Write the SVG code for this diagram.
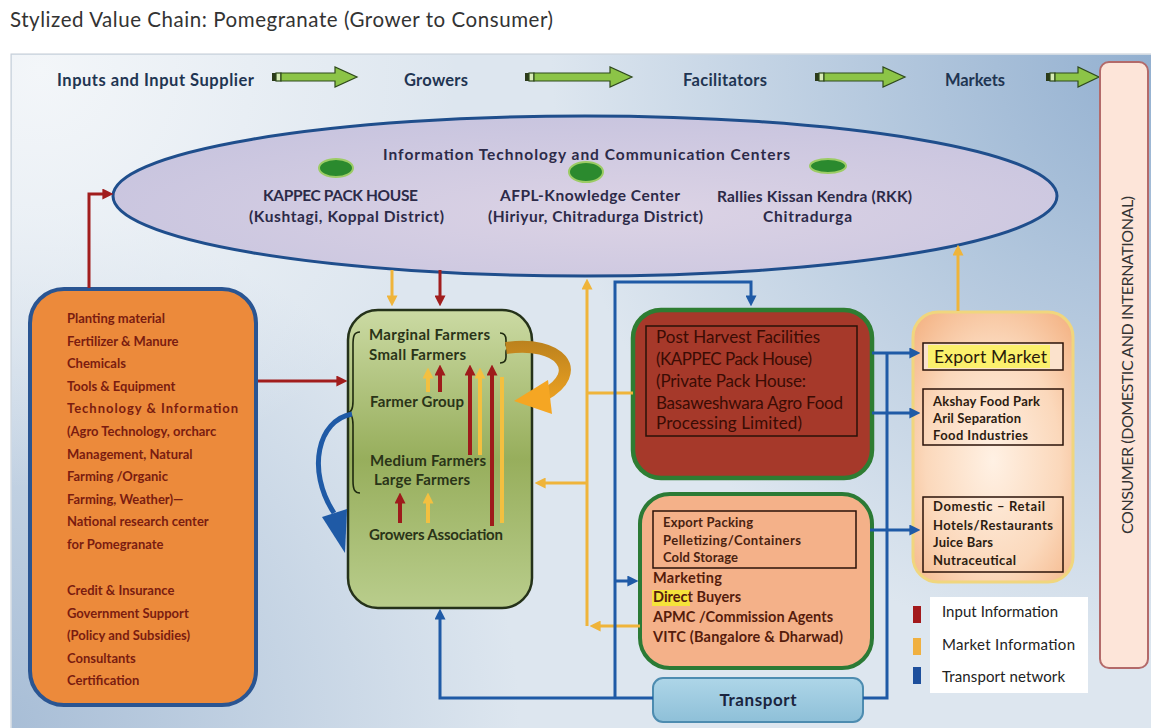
<svg xmlns="http://www.w3.org/2000/svg" width="1151" height="728" viewBox="0 0 1151 728">
<defs>
<style>
text { font-family: Lato, 'Liberation Sans', sans-serif; }
.ttl { font-size:20.5px; fill:#333; }
.hdr { font-size:16.5px; font-weight:bold; fill:#1f3552; }
.ell { font-size:15.5px; font-weight:bold; fill:#2c2a48; }
.inp { font-size:13px; font-weight:bold; fill:#7a1c10; }
.grw { font-size:15px; font-weight:bold; fill:#2a3418; }
.phf { font-size:17px; fill:#3a0c04; }
.exp { font-size:13px; font-weight:bold; fill:#4a2210; }
.mkt { font-size:14.5px; font-weight:bold; fill:#551c0c; }
.mk2 { font-size:13px; font-weight:bold; fill:#2d1c10; }
.leg { font-size:15px; fill:#222; }
.blue { stroke:#1f5aa6; stroke-width:3; fill:none; }
.yel { stroke:#efb43a; stroke-width:3; fill:none; }
.red { stroke:#a11d1d; stroke-width:3; fill:none; }
.sred { stroke:#9e1b1b; stroke-width:4; fill:none; }
.syel { stroke:#f3c040; stroke-width:4; fill:none; }
.garr { fill:#8cc447; stroke:#2f4a1c; stroke-width:1.2; }
.gtail { fill:#d6ebb5; stroke:#2f4a1c; stroke-width:1.2; }
.gdark { fill:#2b3a1a; }
.ibox { fill:none; stroke:#2a1208; stroke-width:1.5; }
.dot { fill:#2b8a2e; stroke:#9ccc65; stroke-width:2; }
</style>
<radialGradient id="bgTR" cx="1151" cy="60" r="600" gradientUnits="userSpaceOnUse">
<stop offset="0" stop-color="#93b0d0"/>
<stop offset="1" stop-color="#93b0d0" stop-opacity="0"/>
</radialGradient>
<radialGradient id="bgBL" cx="0" cy="728" r="520" gradientUnits="userSpaceOnUse">
<stop offset="0" stop-color="#a7bdd6"/>
<stop offset="1" stop-color="#a7bdd6" stop-opacity="0"/>
</radialGradient>
<radialGradient id="bgTL" cx="40" cy="70" r="420" gradientUnits="userSpaceOnUse">
<stop offset="0" stop-color="#f3f6f9"/>
<stop offset="1" stop-color="#f3f6f9" stop-opacity="0"/>
</radialGradient>
<radialGradient id="gEll" cx="0.55" cy="0.6" r="0.6">
<stop offset="0" stop-color="#dcd3e5"/>
<stop offset="1" stop-color="#c9c5df"/>
</radialGradient>
<linearGradient id="gGreen" x1="0" y1="0" x2="0" y2="1">
<stop offset="0" stop-color="#cbdaa3"/>
<stop offset="0.5" stop-color="#97ae5c"/>
<stop offset="1" stop-color="#b9cd8c"/>
</linearGradient>
<linearGradient id="gTr" x1="0" y1="0" x2="0" y2="1">
<stop offset="0" stop-color="#aed6e8"/>
<stop offset="1" stop-color="#8ec0d8"/>
</linearGradient>
<radialGradient id="gMk" cx="0.5" cy="0.55" r="0.7">
<stop offset="0" stop-color="#fff1e4"/>
<stop offset="0.6" stop-color="#fbd8bb"/>
<stop offset="1" stop-color="#f4b486"/>
</radialGradient>
<linearGradient id="gSw" x1="0" y1="338" x2="0" y2="414" gradientUnits="userSpaceOnUse">
<stop offset="0" stop-color="#b9801d"/>
<stop offset="1" stop-color="#f6a823"/>
</linearGradient>
<marker id="ab" viewBox="0 0 10 10" refX="6" refY="5" markerWidth="11" markerHeight="11" markerUnits="userSpaceOnUse" orient="auto"><path d="M0,0L10,5L0,10z" fill="#1f5aa6"/></marker>
<marker id="ar" viewBox="0 0 10 10" refX="6" refY="5" markerWidth="11" markerHeight="11" markerUnits="userSpaceOnUse" orient="auto"><path d="M0,0L10,5L0,10z" fill="#a11d1d"/></marker>
<marker id="ay" viewBox="0 0 10 10" refX="6" refY="5" markerWidth="11" markerHeight="11" markerUnits="userSpaceOnUse" orient="auto"><path d="M0,0L10,5L0,10z" fill="#efb43a"/></marker>
<marker id="sr" viewBox="0 0 10 10" refX="5" refY="5" markerWidth="11" markerHeight="11" markerUnits="userSpaceOnUse" orient="auto"><path d="M0,0L10,5L0,10z" fill="#9e1b1b"/></marker>
<marker id="sy" viewBox="0 0 10 10" refX="5" refY="5" markerWidth="11" markerHeight="11" markerUnits="userSpaceOnUse" orient="auto"><path d="M0,0L10,5L0,10z" fill="#f3c040"/></marker>
</defs>

<rect x="0" y="0" width="1151" height="728" fill="#ffffff"/>
<text class="ttl" x="10" y="27" textLength="543">Stylized Value Chain: Pomegranate (Grower to Consumer)</text>

<g id="panel">
<rect x="11" y="54" width="1145" height="680" fill="#dde6ef" stroke="#c3ccd6" stroke-width="1"/>
<rect x="12" y="55" width="1139" height="673" fill="url(#bgTR)"/>
<rect x="12" y="55" width="1139" height="673" fill="url(#bgBL)"/>
<rect x="12" y="55" width="1139" height="673" fill="url(#bgTL)"/>
</g>

<g id="header">
<text class="hdr" x="57" y="86" textLength="197">Inputs and Input Supplier</text>
<text class="hdr" x="404" y="86" textLength="64">Growers</text>
<text class="hdr" x="683" y="86" textLength="84">Facilitators</text>
<text class="hdr" x="945" y="86" textLength="60">Markets</text>
<rect class="gdark" x="272" y="73" width="4" height="8"/><rect class="gtail" x="276" y="73" width="5" height="8"/>
<path class="garr" d="M281,73H335V67L357,77L335,87V81H281Z"/>
<rect class="gdark" x="525" y="73" width="4" height="8"/><rect class="gtail" x="529" y="73" width="5" height="8"/>
<path class="garr" d="M534,73H610V67L632,77L610,87V81H534Z"/>
<rect class="gdark" x="815" y="73" width="4" height="8"/><rect class="gtail" x="819" y="73" width="5" height="8"/>
<path class="garr" d="M824,73H883V67L905,77L883,87V81H824Z"/>
<rect class="gdark" x="1046" y="73" width="4" height="8"/><rect class="gtail" x="1050" y="73" width="5" height="8"/>
<path class="garr" d="M1055,73H1078V67L1099,77L1078,87V81H1055Z"/>
</g>

<g id="ict-centers">
<ellipse cx="585" cy="196" rx="472" ry="80" fill="url(#gEll)" stroke="#1f4e8c" stroke-width="3"/>
<text class="ell" x="383" y="160" textLength="407">Information Technology and Communication Centers</text>
<ellipse class="dot" cx="336" cy="168" rx="17" ry="9"/>
<ellipse class="dot" cx="586" cy="172" rx="17" ry="10"/>
<ellipse class="dot" cx="828" cy="166" rx="18" ry="7"/>
<text class="ell" x="263" y="201" textLength="155">KAPPEC PACK HOUSE</text>
<text class="ell" x="249" y="222" textLength="195">(Kushtagi, Koppal District)</text>
<text class="ell" x="500" y="201" textLength="180">AFPL-Knowledge Center</text>
<text class="ell" x="488" y="222" textLength="215">(Hiriyur, Chitradurga District)</text>
<text class="ell" x="717" y="202" textLength="195">Rallies Kissan Kendra (RKK)</text>
<text class="ell" x="763" y="222" textLength="89">Chitradurga</text>
</g>

<g id="inputs">
<rect x="30" y="289" width="226" height="416" rx="34" fill="#ec8a3b" stroke="#2a5592" stroke-width="4"/>
<text class="inp" x="67" y="323">Planting material</text>
<text class="inp" x="67" y="345.6">Fertilizer &amp; Manure</text>
<text class="inp" x="67" y="368.2">Chemicals</text>
<text class="inp" x="67" y="390.8">Tools &amp; Equipment</text>
<text class="inp" x="67" y="413.4" textLength="171">Technology &amp; Information</text>
<text class="inp" x="67" y="436">(Agro Technology, orcharc</text>
<text class="inp" x="67" y="458.6">Management, Natural</text>
<text class="inp" x="67" y="481.2">Farming /Organic</text>
<text class="inp" x="67" y="503.8">Farming, Weather)—</text>
<text class="inp" x="67" y="526.4">National research center</text>
<text class="inp" x="67" y="549">for Pomegranate</text>
<text class="inp" x="67" y="595">Credit &amp; Insurance</text>
<text class="inp" x="67" y="617.6">Government Support</text>
<text class="inp" x="67" y="640.2">(Policy and Subsidies)</text>
<text class="inp" x="67" y="662.8">Consultants</text>
<text class="inp" x="67" y="685.4">Certification</text>
</g>

<g id="growers">
<rect x="348" y="310" width="184" height="298" rx="30" fill="url(#gGreen)" stroke="#25321a" stroke-width="2.5"/>
<text class="grw" x="369" y="340" textLength="121">Marginal Farmers</text>
<text class="grw" x="369" y="360" textLength="97">Small Farmers</text>
<text class="grw" x="370" y="407" textLength="94">Farmer Group</text>
<text class="grw" x="370" y="466" textLength="116">Medium Farmers</text>
<text class="grw" x="374" y="485" textLength="96">Large Farmers</text>
<text class="grw" x="369" y="540" textLength="134">Growers Association</text>
<path d="M360,332C354,332 353,336 353,345L353,401C353,410 351,413 347,413C351,413 353,416 353,425L353,481C353,490 355,493 360,493" fill="none" stroke="#1f2a10" stroke-width="1.6"/>
<path d="M500,333C505,333 506,336 506,340L506,344C506,347 508,348 511,348C508,348 506,349 506,352L506,357C506,361 504,363 500,363" fill="none" stroke="#1f2a10" stroke-width="1.6"/>
</g>

<g id="post-harvest">
<rect x="633" y="310" width="239" height="168" rx="28" fill="#a6392a" stroke="#2e7d32" stroke-width="4.5"/>
<rect class="ibox" x="646" y="326" width="211" height="110"/>
<text class="phf" x="656" y="343" textLength="164">Post Harvest Facilities</text>
<text class="phf" x="656" y="365" textLength="156">(KAPPEC Pack House)</text>
<text class="phf" x="656" y="387" textLength="150">(Private Pack House:</text>
<text class="phf" x="656" y="409" textLength="187">Basaweshwara Agro Food</text>
<text class="phf" x="656" y="429" textLength="146">Processing Limited)</text>
</g>

<g id="export-packing">
<rect x="640" y="494" width="232" height="174" rx="30" fill="#f4b189" stroke="#2b7a35" stroke-width="4"/>
<rect class="ibox" x="653" y="511" width="203" height="57"/>
<text class="exp" x="663" y="527" textLength="90">Export Packing</text>
<text class="exp" x="663" y="545" textLength="138">Pelletizing/Containers</text>
<text class="exp" x="663" y="562" textLength="75">Cold Storage</text>
<rect x="652" y="590" width="38" height="16" fill="#f5e33a"/>
<text class="mkt" x="653" y="583" textLength="69">Marketing</text>
<text class="mkt" x="653" y="602" textLength="88">Direct Buyers</text>
<text class="mkt" x="653" y="622" textLength="180">APMC /Commission Agents</text>
<text class="mkt" x="653" y="642" textLength="190">VITC (Bangalore &amp; Dharwad)</text>
</g>

<g id="transport">
<rect x="653" y="678" width="210" height="44" rx="10" fill="url(#gTr)" stroke="#4d8cb0" stroke-width="2"/>
<text x="758" y="706" text-anchor="middle" textLength="77" style="font-size:17px;font-weight:bold;fill:#1a2540">Transport</text>
</g>

<g id="markets">
<rect x="913" y="312" width="160" height="270" rx="25" fill="url(#gMk)" stroke="#f0d67e" stroke-width="3"/>
<rect x="923" y="343" width="140" height="27" fill="#fbe2cc"/>
<rect x="928" y="345" width="122" height="23" fill="#fbf06c"/>
<rect class="ibox" x="923" y="343" width="140" height="27"/>
<text x="934" y="363" textLength="113" style="font-size:17.5px;fill:#2a1a0a">Export Market</text>
<rect class="ibox" x="923" y="389" width="140" height="56"/>
<text class="mk2" x="933" y="406" textLength="107">Akshay Food Park</text>
<text class="mk2" x="933" y="423" textLength="88">Aril Separation</text>
<text class="mk2" x="933" y="440" textLength="95">Food Industries</text>
<rect class="ibox" x="923" y="497" width="140" height="75"/>
<text class="mk2" x="933" y="511" textLength="112">Domestic – Retail</text>
<text class="mk2" x="933" y="530" textLength="120">Hotels/Restaurants</text>
<text class="mk2" x="933" y="547" textLength="60">Juice Bars</text>
<text class="mk2" x="933" y="565" textLength="83">Nutraceutical</text>
</g>

<g id="consumer">
<rect x="1100" y="62" width="48" height="606" rx="9" fill="#fde5d9" stroke="#b36a6a" stroke-width="2"/>
<text transform="translate(1133,365) rotate(-90)" text-anchor="middle" textLength="338" style="font-size:16px;fill:#333">CONSUMER (DOMESTIC AND INTERNATIONAL)</text>
</g>

<g id="legend">
<rect x="930" y="597" width="158" height="96" fill="#ffffff"/>
<rect x="913" y="606" width="8" height="17" fill="#a3191c"/>
<rect x="913" y="638" width="8" height="17" fill="#f0b040"/>
<rect x="913" y="667" width="8" height="17" fill="#1d4f9c"/>
<text class="leg" x="942" y="617" textLength="116">Input Information</text>
<text class="leg" x="942" y="650" textLength="133">Market Information</text>
<text class="leg" x="942" y="682" textLength="123">Transport network</text>
</g>

<g id="connectors">
<path class="red" d="M89,288V194H109" marker-end="url(#ar)"/>
<path class="red" d="M258,381H343" marker-end="url(#ar)"/>
<path class="red" d="M440,270V302" marker-end="url(#ar)"/>
<path class="yel" d="M392,270V302" marker-end="url(#ay)"/>
<path class="yel" d="M958,311V249" marker-end="url(#ay)"/>
<path class="yel" d="M587,626V283" marker-end="url(#ay)"/>
<path class="yel" d="M587,393H633"/>
<path class="yel" d="M640,626H594" marker-end="url(#ay)"/>
<path class="yel" d="M587,483H539" marker-end="url(#ay)"/>
<path class="blue" d="M615,698V282H751V302" marker-end="url(#ab)"/>
<path class="blue" d="M653,698H440V613" marker-end="url(#ab)"/>
<path class="blue" d="M615,581H634" marker-end="url(#ab)"/>
<path class="blue" d="M863,698H887V353"/>
<path class="blue" d="M872,353H916" marker-end="url(#ab)"/>
<path class="blue" d="M872,413H916" marker-end="url(#ab)"/>
<path class="blue" d="M870,530H916" marker-end="url(#ab)"/>
<path class="sred" d="M440,392V370" marker-end="url(#sr)"/>
<path class="sred" d="M470,455V370" marker-end="url(#sr)"/>
<path class="sred" d="M492,526V370" marker-end="url(#sr)"/>
<path class="sred" d="M400,523V498" marker-end="url(#sr)"/>
<path class="syel" d="M428,392V373" marker-end="url(#sy)"/>
<path class="syel" d="M480,455V373" marker-end="url(#sy)"/>
<path class="syel" d="M428,523V498" marker-end="url(#sy)"/>
<path class="syel" d="M502,523V377"/>
<path d="M506,348C560,340 586,372 544,395" fill="none" stroke="url(#gSw)" stroke-width="12"/>
<polygon points="548,380 552,414 514,401" fill="#f5a623"/>
<path d="M352,414C318,420 306,470 334,513" fill="none" stroke="#1f5aa6" stroke-width="5"/>
<polygon points="322,517 347,509 345,553" fill="#1f5aa6"/>
</g>
</svg>
